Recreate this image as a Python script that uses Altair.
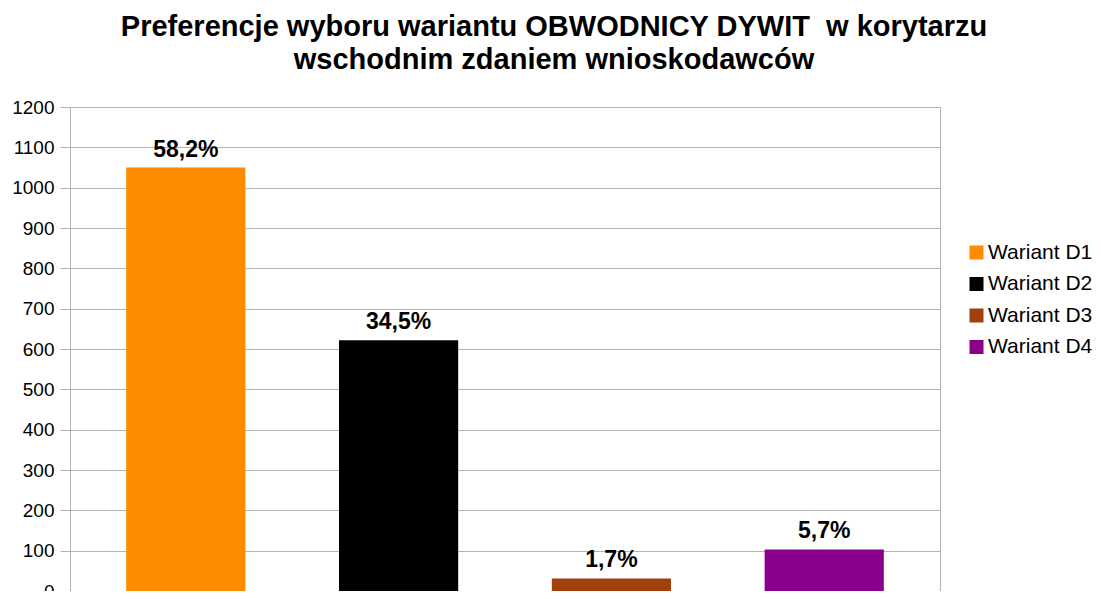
import altair as alt
import pandas as pd

categories = ["Wariant D1", "Wariant D2", "Wariant D3", "Wariant D4"]
values = [1050, 622, 31, 103]
labels = ["58,2%", "34,5%", "1,7%", "5,7%"]
colors = ["#ff8c00", "#000000", "#a0410d", "#8b008b"]
y_ticks = list(range(0, 1201, 100))

df = pd.DataFrame({"wariant": categories, "liczba": values, "etykieta": labels})

FONT = "Liberation Sans"

x = alt.X("wariant:N", axis=None,
          scale=alt.Scale(domain=categories, paddingInner=0.44, paddingOuter=0.264))
y = alt.Y("liczba:Q", title=None,
          scale=alt.Scale(domain=[0, 1200], nice=False),
          axis=alt.Axis(values=y_ticks, format="d", grid=True, gridColor="#b3b3b3",
                        domainColor="#b3b3b3", tickColor="#b3b3b3", tickSize=10,
                        labelFontSize=19, labelColor="#000000", labelPadding=6,
                        labelFont=FONT, labelFlush=False))

bars = alt.Chart(df).mark_bar().encode(
    x=x, y=y,
    color=alt.Color("wariant:N", scale=alt.Scale(domain=categories, range=colors),
                    legend=alt.Legend(title=None, orient="none", legendX=896, legendY=135,
                                      symbolType="square", symbolSize=196,
                                      symbolStrokeWidth=0, labelFontSize=21,
                                      labelFont=FONT, labelColor="#000000",
                                      rowPadding=9.5, labelOffset=1, padding=0)),
)

text = alt.Chart(df).mark_text(fontSize=23, fontWeight="bold", font=FONT,
                               baseline="alphabetic", dy=-11, color="#000000").encode(
    x=x, y=y, text="etykieta:N")

chart = (bars + text).properties(
    width=870, height=484,
    autosize=alt.AutoSizeParams(type="none"),
    padding={"left": 62, "top": 99, "right": 153, "bottom": 0},
    title=alt.Title(["Preferencje wyboru wariantu OBWODNICY DYWIT\u00a0 w korytarzu",
                     "wschodnim zdaniem wnioskodawców"],
                    fontSize=29, font=FONT, fontWeight="bold", color="#000000",
                    anchor="middle", dx=49, lineHeight=33, offset=23),
).configure_view(stroke="#b3b3b3")

chart.save("out.html", embed_options={"renderer": "svg", "actions": False})
